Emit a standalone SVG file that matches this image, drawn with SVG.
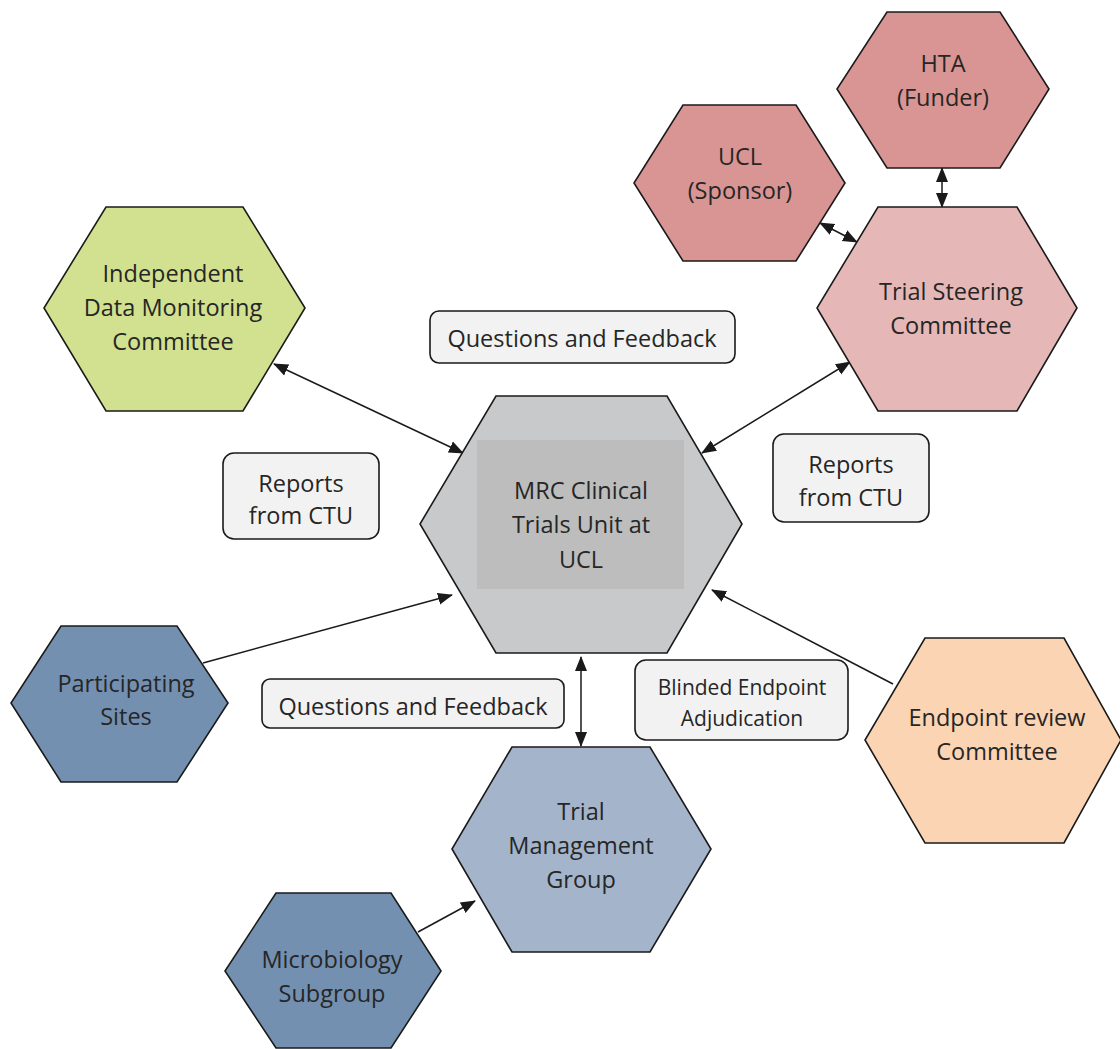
<svg xmlns="http://www.w3.org/2000/svg" width="1120" height="1049" viewBox="0 0 1120 1049">
<style>
.hex{stroke:#1a1a1a;stroke-width:1.6;stroke-linejoin:miter}
.t{font-family:"Open Sans","Liberation Sans",sans-serif;font-size:23.5px;fill:#262626;text-anchor:middle}
.ts{font-family:"Open Sans","Liberation Sans",sans-serif;font-size:21px;fill:#262626;text-anchor:middle}
.lbl{fill:#f2f2f2;stroke:#1a1a1a;stroke-width:1.6}
.c{stroke:#1a1a1a;stroke-width:1.5;fill:none}
</style>
<defs>
<marker id="ah" markerUnits="userSpaceOnUse" markerWidth="16" markerHeight="14" refX="14" refY="6" orient="auto-start-reverse" viewBox="0 0 16 12">
<path d="M0,0 L15,6 L0,12 Z" fill="#1a1a1a"/>
</marker>
</defs>
<rect width="1120" height="1049" fill="#ffffff"/>

<g id="connectors">
<line class="c" x1="942" y1="168" x2="942" y2="207" marker-start="url(#ah)" marker-end="url(#ah)"/>
<line class="c" x1="820" y1="223" x2="857" y2="242" marker-start="url(#ah)" marker-end="url(#ah)"/>
<line class="c" x1="850" y1="362" x2="702" y2="453" marker-start="url(#ah)" marker-end="url(#ah)"/>
<line class="c" x1="274" y1="364" x2="463" y2="453" marker-start="url(#ah)" marker-end="url(#ah)"/>
<line class="c" x1="203" y1="663" x2="452" y2="595" marker-end="url(#ah)"/>
<line class="c" x1="581" y1="657" x2="581" y2="746" marker-start="url(#ah)" marker-end="url(#ah)"/>
<line class="c" x1="893" y1="684" x2="712" y2="590" marker-end="url(#ah)"/>
<line class="c" x1="418" y1="932" x2="475" y2="901" marker-end="url(#ah)"/>
</g>

<g id="ctu">
<polygon class="hex" fill="#c8c9cb" points="496,396 667,396 742,524 667,653 496,653 420,524"/>
<rect x="477" y="440" width="207" height="149" fill="#bdbdbd"/>
<text class="t" x="581" y="499">MRC Clinical</text>
<text class="t" x="581" y="533">Trials Unit at</text>
<text class="t" x="581" y="568">UCL</text>
</g>

<g id="hta">
<polygon class="hex" fill="#d99594" points="887,12 1000,12 1049,89 1000,168 887,168 837,89"/>
<text class="t" x="943" y="72">HTA</text>
<text class="t" x="943" y="106">(Funder)</text>
</g>

<g id="ucl">
<polygon class="hex" fill="#d99594" points="683,105 796,105 845,183 796,261 683,261 634,183"/>
<text class="t" x="740" y="165">UCL</text>
<text class="t" x="740" y="199">(Sponsor)</text>
</g>

<g id="tsc">
<polygon class="hex" fill="#e5b8b7" points="878,207 1017,207 1077,308 1017,411 878,411 817,308"/>
<text class="t" x="951" y="300">Trial Steering</text>
<text class="t" x="951" y="334">Committee</text>
</g>

<g id="idmc">
<polygon class="hex" fill="#d2e190" points="106,207 243,207 305,308 243,411 106,411 44,308"/>
<text class="t" x="173" y="282">Independent</text>
<text class="t" x="173" y="316">Data Monitoring</text>
<text class="t" x="173" y="350">Committee</text>
</g>

<g id="sites">
<polygon class="hex" fill="#7490b0" points="61,626 177,626 228,703 177,782 61,782 11,703"/>
<text class="t" x="126" y="692">Participating</text>
<text class="t" x="126" y="725">Sites</text>
</g>

<g id="tmg">
<polygon class="hex" fill="#a4b4cb" points="512,747 650,747 711,849 650,952 512,952 452,849"/>
<text class="t" x="581" y="820">Trial</text>
<text class="t" x="581" y="854">Management</text>
<text class="t" x="581" y="888">Group</text>
</g>

<g id="micro">
<polygon class="hex" fill="#7490b0" points="276,893 391,893 441,971 391,1048 276,1048 225,971"/>
<text class="t" x="332" y="968">Microbiology</text>
<text class="t" x="332" y="1002">Subgroup</text>
</g>

<g id="erc">
<polygon class="hex" fill="#fbd4b4" points="925,638 1064,638 1121,740 1064,843 925,843 865,740"/>
<text class="t" x="997" y="726">Endpoint review</text>
<text class="t" x="997" y="760">Committee</text>
</g>

<g id="label-qf-top">
<rect class="lbl" x="430" y="311" width="305" height="52" rx="9"/>
<text class="t" x="582" y="347">Questions and Feedback</text>
</g>

<g id="label-reports-left">
<rect class="lbl" x="223" y="453" width="156" height="86" rx="11"/>
<text class="t" x="301" y="492">Reports</text>
<text class="t" x="301" y="524">from CTU</text>
</g>

<g id="label-reports-right">
<rect class="lbl" x="773" y="434" width="156" height="88" rx="11"/>
<text class="t" x="851" y="473">Reports</text>
<text class="t" x="851" y="506">from CTU</text>
</g>

<g id="label-qf-bottom">
<rect class="lbl" x="262" y="679" width="302" height="49" rx="8"/>
<text class="t" x="413" y="715">Questions and Feedback</text>
</g>

<g id="label-blinded">
<rect class="lbl" x="635" y="660" width="213" height="80" rx="11"/>
<text class="ts" x="742" y="695">Blinded Endpoint</text>
<text class="ts" x="742" y="726">Adjudication</text>
</g>
</svg>
